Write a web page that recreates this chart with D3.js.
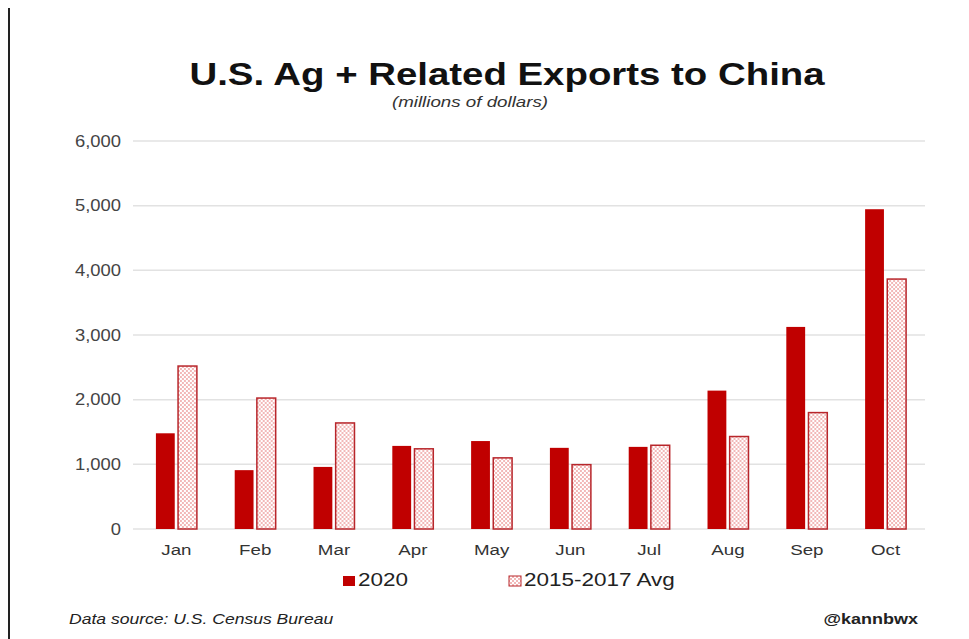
<!DOCTYPE html>
<html>
<head>
<meta charset="utf-8">
<script src="https://cdn.jsdelivr.net/npm/d3@7"></script>
<style>
  body { margin: 0; background: #fff; }
  svg { display: block; font-family: "Liberation Sans", Arial, sans-serif; }
</style>
</head>
<body>
<svg width="969" height="639"></svg>
<script>
var months = ['Jan', 'Feb', 'Mar', 'Apr', 'May', 'Jun', 'Jul', 'Aug', 'Sep', 'Oct'];
var values2020 = [1480, 910, 960, 1285, 1360, 1255, 1270, 2140, 3125, 4945];
var valuesAvg = [2520, 2025, 1640, 1240, 1100, 995, 1295, 1430, 1800, 3865];
var seriesNames = ['2020', '2015-2017 Avg'];
var yTicks = [0, 1000, 2000, 3000, 4000, 5000, 6000];

var svg = d3.select('svg');
var red = '#c00000';

// the source image is a bit wide, so text gets a horizontal stretch
function label(x, y, sx, txt) {
    return svg.append('text')
        .attr('transform', 'translate(' + x + ',' + y + ') scale(' + sx + ',1)')
        .text(txt);
}

var defs = svg.append('defs');
var pat = defs.append('pattern')
    .attr('id', 'checks')
    .attr('width', 4)
    .attr('height', 4)
    .attr('patternUnits', 'userSpaceOnUse');
pat.append('rect').attr('width', 4).attr('height', 4).attr('fill', '#fff');
pat.append('rect').attr('x', 0).attr('y', 0).attr('width', 2).attr('height', 2).attr('fill', '#f2b8b8');
pat.append('rect').attr('x', 2).attr('y', 2).attr('width', 2).attr('height', 2).attr('fill', '#f2b8b8');

// left page edge
svg.append('line')
    .attr('x1', 9).attr('x2', 9)
    .attr('y1', 8).attr('y2', 639)
    .attr('stroke', '#222')
    .attr('stroke-width', 2);

var x = d3.scaleBand()
    .domain(months)
    .range([137, 925])
    .paddingInner(0.48)
    .paddingOuter(0.24);

var xInner = d3.scaleBand()
    .domain(seriesNames)
    .range([0, x.bandwidth()])
    .paddingInner(0.15);

var y = d3.scaleLinear()
    .domain([0, 6000])
    .range([529, 141]);

// gridlines
svg.append('g')
    .selectAll('line')
    .data(yTicks)
    .enter()
    .append('line')
        .attr('x1', 133)
        .attr('x2', 925)
        .attr('y1', function (d) { return y(d); })
        .attr('y2', function (d) { return y(d); })
        .attr('stroke', '#e2e2e2')
        .attr('stroke-width', 1.5);

// y labels
var yAxis = svg.append('g')
    .attr('transform', 'translate(121,0)')
    .call(d3.axisLeft(y).tickValues(yTicks).tickSize(0).tickPadding(0).tickFormat(d3.format(',')));
yAxis.select('.domain').remove();
yAxis.selectAll('text')
    .attr('font-size', 16)
    .attr('font-family', '"Liberation Sans", Arial, sans-serif')
    .attr('fill', '#444')
    .attr('transform', 'scale(1.15,1)');

// x labels
var xAxis = svg.append('g')
    .attr('transform', 'translate(0,541)')
    .call(d3.axisBottom(x).tickSize(0).tickPadding(3));
xAxis.select('.domain').remove();
xAxis.selectAll('text')
    .attr('font-size', 15)
    .attr('font-family', '"Liberation Sans", Arial, sans-serif')
    .attr('fill', '#333')
    .attr('transform', 'scale(1.25,1)');

var rows = months.map(function (m, i) {
    return {month: m, vals: [
        {s: seriesNames[0], v: values2020[i]},
        {s: seriesNames[1], v: valuesAvg[i]}
    ]};
});

var groups = svg.selectAll('.grp')
    .data(rows)
    .enter()
    .append('g')
        .attr('class', 'grp')
        .attr('transform', function (d) { return 'translate(' + x(d.month) + ',0)'; });

groups.selectAll('rect')
    .data(function (d) { return d.vals; })
    .enter()
    .append('rect')
        .attr('x', function (d) { return xInner(d.s); })
        .attr('width', xInner.bandwidth())
        .attr('y', function (d) { return y(d.v); })
        .attr('height', function (d) { return y(0) - y(d.v); })
        .attr('fill', function (d) { return d.s === seriesNames[0] ? red : 'url(#checks)'; })
        .attr('stroke', function (d) { return d.s === seriesNames[0] ? 'none' : '#b8262b'; })
        .attr('stroke-width', 1.5);

// title
label(507, 85, 1.2, 'U.S. Ag + Related Exports to China')
    .attr('text-anchor', 'middle')
    .attr('font-size', 32)
    .attr('font-weight', 'bold')
    .attr('fill', '#111');

label(470, 107, 1.25, '(millions of dollars)')
    .attr('text-anchor', 'middle')
    .attr('font-size', 15)
    .attr('font-style', 'italic')
    .attr('fill', '#333');

// legend
var legX = [343, 509];
seriesNames.forEach(function (s, i) {
    svg.append('rect')
        .attr('x', legX[i]).attr('y', 576)
        .attr('width', 12).attr('height', 10)
        .attr('fill', i === 0 ? red : 'url(#checks)')
        .attr('stroke', i === 0 ? 'none' : '#b8262b')
        .attr('stroke-width', 1);
    label(legX[i] + 15, 586, 1.25, s)
        .attr('font-size', 18)
        .attr('fill', '#222');
});

// footer
label(69, 624, 1.17, 'Data source: U.S. Census Bureau')
    .attr('font-size', 15)
    .attr('font-style', 'italic')
    .attr('fill', '#222');

label(918, 624, 1.2, '@kannbwx')
    .attr('text-anchor', 'end')
    .attr('font-size', 15)
    .attr('font-weight', 'bold')
    .attr('fill', '#222');
</script>
</body>
</html>
